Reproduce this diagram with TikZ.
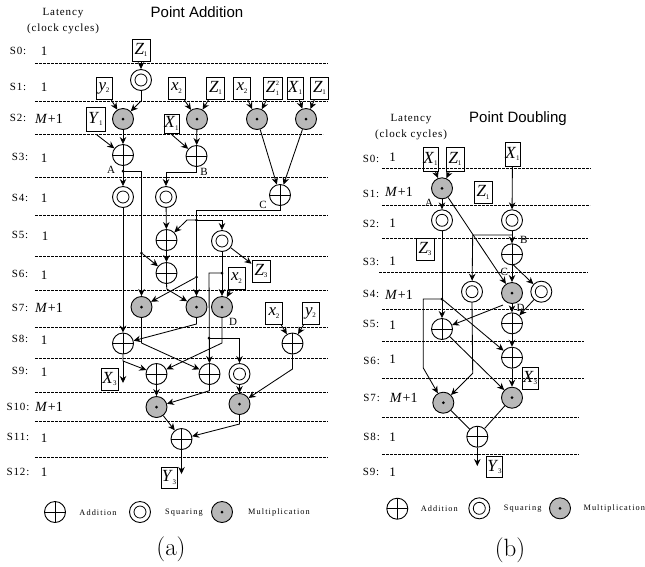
\documentclass[tikz,border=0pt]{standalone}
\usepackage{fontspec}
\usetikzlibrary{arrows.meta}
\newfontfamily\tms{Liberation Serif}
\newfontfamily\tmsp[LetterSpace=8]{Liberation Serif}
\newfontfamily\tmsw[LetterSpace=13]{Liberation Serif}
\newfontfamily\hlv{Liberation Sans}
\newcommand{\bv}[2]{{\tms\fontsize{17}{17}\selectfont\textit{#1}\kern-.4pt\raisebox{-2.5pt}{\fontsize{7}{7}\selectfont #2}}}
\newcommand{\bvv}[3]{{\tms\fontsize{17}{17}\selectfont\textit{#1}\kern.4pt\rlap{\raisebox{7pt}{\fontsize{6.5}{6.5}\selectfont #3}}\raisebox{-3pt}{\fontsize{6.5}{6.5}\selectfont #2}}}
\newcommand{\Mp}{{\tms\fontsize{14}{14}\selectfont\textit{M}\kern.5pt+1}}
\newcommand{\On}{{\tms\fontsize{13}{13}\selectfont 1}}
\tikzset{
  x=1pt,y=-1pt,
  opn/.style={circle,draw,minimum size=21,inner sep=0,line width=.9},
  addn/.style={opn,path picture={\draw[line width=.8] (path picture bounding box.north)--(path picture bounding box.south) (path picture bounding box.west)--(path picture bounding box.east);}},
  sqn/.style={opn,path picture={\draw[line width=.8] (path picture bounding box.center) circle (6);}},
  muln/.style={opn,fill=black!28,path picture={\fill[black] (path picture bounding box.center) circle (1.5);}},
  vbox/.style={draw,line width=.9,inner sep=0,minimum width=18,minimum height=22},
  dotn/.style={circle,fill,inner sep=0,minimum size=3},
  lab/.style={font=\tmsp\fontsize{11}{11}\selectfont,inner sep=0},
  nlab/.style={font=\tms\fontsize{11}{11}\selectfont,inner sep=0},
  leg/.style={font=\tmsw\fontsize{8.3}{8.3}\selectfont,inner sep=0},
  ttl/.style={font=\hlv\fontsize{15}{15}\selectfont,inner sep=0},
  captext/.style={font=\fontsize{25}{25}\selectfont,inner sep=0},
  lat/.style={inner sep=0},
  ln/.style={line width=.85},
  arr/.style={line width=.85,-{Stealth[length=7,width=6.5]}},
  dsh/.style={line width=.6,dash pattern=on 2.6 off 1.4},
}
\begin{document}
\begin{tikzpicture}
\useasboundingbox (0,0) rectangle (645,566);
% ---------- dashed stage lines
\foreach \y/\e in {63/328,101/328,134.5/323,177/328,215/328,256/328,290/328,327/328,358.5/328,392.7/328,421.5/328,457/328}
  \draw[dsh] (35,\y) -- (\e,\y);
\foreach \y/\s/\e in {168.5/382/591,205.5/382/590,238/382/588,272/379/588,309/382/584,341/382/584,378/382/584,417/382/579,454/382/579}
  \draw[dsh] (\s,\y) -- (\e,\y);
% ---------- stage labels (a)
\node[lab] (la) at (63,13) {Latency};
\node[lab] (lb) at (63,29) {(clock cycles)};
\node[ttl] (ta) at (197,12) {Point Addition};
\foreach \n/\x/\y/\t in {0/18/51/S0:,1/18/87/S1:,2/18/118/S2:,3/20/157/S3:,4/20/198/S4:,5/20/235/S5:,6/20/274/S6:,7/20/308/S7:,8/20/339/S8:,9/20/371/S9:,10/18/407/S10:,11/18/437/S11:,12/18/472/S12:}
  \node[lab] (sa\n) at (\x,\y) {\t};
\foreach \n/\x/\y in {0/44/51,1/44/87,3/44/158,4/44/198,5/45/236,6/44/275,8/44/340,9/44/372,11/44/438,12/44/472}
  \node[lat] (ca\n) at (\x,\y) {\On};
\foreach \n/\y in {2/119,7/308,10/407}
  \node[lat] (ca\n) at (49,\y) {\Mp};
% ---------- operations (a)
\node[sqn] (s1) at (141,80) {};
\node[muln] (m1) at (123,119) {};
\node[muln] (m2) at (197,119) {};
\node[muln] (m3) at (257,119) {};
\node[muln] (m4) at (306,119) {};
\node[addn] (a1) at (123,155) {};
\node[addn] (a2) at (196.5,156) {};
\node[sqn] (s2) at (123,197) {};
\node[sqn] (s3) at (166,197) {};
\node[addn] (a3) at (280,195) {};
\node[addn] (a4) at (166.5,240) {};
\node[sqn] (s4) at (222,241) {};
\node[addn] (a5) at (166.5,273) {};
\node[muln] (m5) at (141.5,307) {};
\node[muln] (m6) at (196.5,307) {};
\node[muln] (m7) at (222,307) {};
\node[addn] (a6) at (123,343.5) {};
\node[addn] (a7) at (292.5,343.5) {};
\node[addn] (a8) at (156.5,374) {};
\node[addn] (a9) at (209.5,374) {};
\node[sqn] (s5) at (239.5,374) {};
\node[muln] (m8) at (156.5,407) {};
\node[muln] (m9) at (239.5,404) {};
\node[addn] (a10) at (181.5,439) {};
% ---------- operands (a)
\node[vbox] (bz0) at (141,50) {\bv{Z}{1}};
\node[vbox,minimum width=16] (by1) at (104,88) {\bv{y}{2}};
\node[vbox,minimum width=17] (bx1) at (176.5,88) {\bv{x}{2}};
\node[vbox] (bz1) at (215.5,88) {\bv{Z}{1}};
\node[vbox,minimum width=17] (bx2) at (242,88) {\bv{x}{2}};
\node[vbox,minimum width=19] (bz2) at (272.5,88) {\bvv{Z}{1}{2}};
\node[vbox,minimum width=16] (bX1) at (295,88) {\bv{X}{1}};
\node[vbox] (bz3) at (319.5,88) {\bv{Z}{1}};
\node[vbox,minimum height=24,minimum width=19] (bY) at (95.5,119) {\bv{Y}{1}};
\node[vbox,minimum width=15,minimum height=19] (bX2) at (171.5,123.5) {\bv{X}{1}};
\node[vbox] (bZ3) at (261,271) {\bv{Z}{3}};
\node[vbox,minimum width=17] (bx3) at (236.5,278) {\bv{x}{2}};
\node[vbox,minimum width=17] (bx4) at (274,313) {\bv{x}{2}};
\node[vbox,minimum width=17] (by2) at (310.5,313) {\bv{y}{2}};
\node[vbox,minimum width=17] (bX3) at (109.5,379) {\bv{X}{3}};
\node[vbox,minimum width=16,minimum height=21] (bY3) at (169,477.5) {\bv{Y}{3}};
% ---------- junctions (a)
\node[dotn] (dA) at (123,171) {};
\node[dotn] (dC1) at (196.5,220) {};
\node[dotn] (dA2) at (141.5,253) {};
\node[dotn] (dS) at (222,273) {};
\node[dotn] (dC2) at (196.5,277) {};
\node[dotn] (dT) at (209,338) {};
% ---------- point labels (a)
\node[nlab] (nA) at (111,170) {A};
\node[nlab] (nB) at (204,172) {B};
\node[nlab] (nC) at (263,205) {C};
\node[nlab] (nD) at (233,321.5) {D};
% ---------- connectors (a)
\coordinate (e1) at (141,101);
\coordinate (e2) at (141.5,171);
\coordinate (e3) at (196.5,172);
\coordinate (e4) at (166,172);
\coordinate (e5) at (280,210);
\coordinate (e6) at (196.5,210);
\coordinate (e7) at (187,220);
\coordinate (e8) at (222,220);
\coordinate (e9) at (209,273);
\coordinate (e10) at (239.5,338);
\coordinate (e11) at (166.8,289);
\coordinate (e12) at (141.5,343);
\coordinate (e13) at (196.5,324);
\coordinate (e14) at (222,343);
\coordinate (e15) at (123,361);
\coordinate (e16) at (123,383);
\coordinate (e17) at (292.5,369);
\coordinate (e18) at (209.5,390.7);
\coordinate (e19) at (239.5,424);
\coordinate (e20) at (181.5,474);
\coordinate (b1) at (97,135);
\coordinate (b2) at (171,134);
\draw[arr] (bz0) -- (s1);
\draw[ln] (s1) -- (e1);
\draw[arr] (e1) -- (m1);
\draw[arr] (by1) -- (m1);
\draw[arr] (bx1) -- (m2);
\draw[arr] (bz1) -- (m2);
\draw[arr] (bx2) -- (m3);
\draw[arr] (bz2) -- (m3);
\draw[arr] (bX1) -- (m4);
\draw[arr] (bz3) -- (m4);
\draw[arr] (m1) -- (a1);
\draw[arr] (m2) -- (a2);
\draw[arr] (b1) -- (a1);
\draw[arr] (b2) -- (a2);
\draw[arr] (m3) -- (a3);
\draw[arr] (m4) -- (a3);
\draw[arr] (a1) -- (s2);
\draw[arr] (a2.south) -- (e3) -- (e4) -- (s3);
\draw[arr] (dA.center) -- (e2) -- (m5);
\draw[ln] (a3.south) -- (e5) -- (e6);
\draw[arr] (e6) -- (m6);
\draw[arr] (dC1.center) -- (e7) -- (a4);
\draw[arr] (dC1.center) -- (e8) -- (s4);
\draw[arr] (s3) -- (a4);
\draw[arr] (a4) -- (a5);
\draw[arr] (dA2) -- (a5);
\draw[arr] (s4) -- (bZ3);
\draw[arr] (s4) -- (m7);
\draw[arr] (dS.center) -- (e9) -- (a9);
\draw[arr] (dT.center) -- (e10) -- (s5);
\draw[arr] (bx3) -- (m7);
\draw[arr] (a5.south) -- (e11) -- (m6);
\draw[arr] (dC2) -- (m5);
\draw[arr] (s2) -- (a6);
\draw[arr] (m6.south) -- (e13) -- (a6);
\draw[arr] (m5.south) -- (e12) -- (a9);
\draw[arr] (m7.south) -- (e14) -- (a8);
\draw[arr] (a6.south) -- (e15) -- (a8);
\draw[arr] (e15) -- (e16);
\draw[arr] (bx4) -- (a7);
\draw[arr] (by2) -- (a7);
\draw[arr] (a7.south) -- (e17) -- (m9);
\draw[arr] (a8) -- (m8);
\draw[arr] (a9.south) -- (e18) -- (m8);
\draw[arr] (s5) -- (m9);
\draw[arr] (m8) -- (a10);
\draw[arr] (m9.south) -- (e19) -- (a10);
\draw[arr] (a10.south) -- (e20);
% ---------- legend (a)
\node[addn] (la1) at (55,512) {};
\node[leg] (la2) at (98,512.7) {Addition};
\node[sqn] (la3) at (140,512) {};
\node[leg] (la4) at (184,512.7) {Squaring};
\node[muln] (la5) at (222,512) {};
\node[leg] (la6) at (279,512.7) {Multiplication};
\node[captext] (capa) at (171,549) {(a)};
% ---------- stage labels (b)
\node[lab] (lc) at (411,119) {Latency};
\node[lab] (ld) at (411,135) {(clock cycles)};
\node[ttl] (tb) at (518,119) {Point Doubling};
\foreach \n/\x/\y/\t in {0/371/159/S0:,1/371/194/S1:,2/371/224/S2:,3/371/262/S3:,4/371/294/S4:,5/371/324/S5:,6/371.7/361/S6:,7/371.7/398/S7:,8/371.7/437/S8:,9/371/472/S9:}
  \node[lab] (sb\n) at (\x,\y) {\t};
\foreach \n/\y in {0/157,2/223,3/261,5/325,6/359,8/437,9/472}
  \node[lat] (cb\n) at (392.7,\y) {\On};
\foreach \n/\x/\y in {1/399/192,4/399/295,7/403.7/398}
  \node[lat] (cb\n) at (\x,\y) {\Mp};
% ---------- operations (b)
\node[muln] (q1) at (442,188.3) {};
\node[sqn] (r1) at (442,220.3) {};
\node[sqn] (r2) at (512,220.3) {};
\node[addn] (p1) at (512,254.3) {};
\node[sqn] (r3) at (472,291.7) {};
\node[muln] (q2) at (512,293) {};
\node[sqn] (r4) at (541.3,291.7) {};
\node[addn] (p2) at (442,329) {};
\node[addn] (p3) at (512,323.3) {};
\node[addn] (p4) at (512,357.7) {};
\node[muln] (q3) at (443.3,402.7) {};
\node[muln] (q4) at (512,397.7) {};
\node[addn] (p5) at (477.3,436.7) {};
% ---------- operands (b)
\node[vbox,minimum width=15,minimum height=24] (cX1) at (430.5,159) {\bv{X}{1}};
\node[vbox,minimum height=24] (cZ1) at (455,159) {\bv{Z}{1}};
\node[vbox,minimum width=15,minimum height=24] (cX2) at (512.5,154) {\bv{X}{1}};
\node[vbox] (cZ2) at (483,192.5) {\bv{Z}{1}};
\node[vbox] (cZ3) at (425,249) {\bv{Z}{3}};
\node[vbox,minimum width=16] (cX3) at (530,378) {\bv{X}{3}};
\node[vbox,minimum width=16,minimum height=21] (cY3) at (494.5,467) {\bv{Y}{3}};
% ---------- junctions (b)
\node[dotn] (dB) at (442,299) {};
% ---------- point labels (b)
\node[nlab] (nbA) at (429,202.7) {A};
\node[nlab] (nbB) at (523.7,240) {B};
\node[nlab] (nbC) at (504.3,272) {C};
\node[nlab] (nbD) at (520.7,308) {D};
% ---------- connectors (b)
\coordinate (f1) at (472.7,235);
\coordinate (f2) at (512,235);
\coordinate (f3) at (423.3,299);
\coordinate (f4) at (423.3,368);
\coordinate (f5) at (472.7,373.3);
\coordinate (f6) at (477.3,466);
\coordinate (f7) at (512.7,264.3);
\coordinate (f8) at (503,305);
\draw[arr] (cX1) -- (q1);
\draw[arr] (cZ1) -- (q1);
\draw[arr] (q1) -- (r1);
\draw[arr] (q1) -- (q2);
\draw[arr] (cX2) -- (r2);
\draw[arr] (r2) -- (p1);
\draw[arr] (f2) -- (f1) -- (r3);
\draw[arr] (p1) -- (q2);
\draw[arr] (f7) -- (r4);
\draw[arr] (r1) -- (p2);
\draw[arr] (dB.center) -- (f3) -- (f4) -- (q3);
\draw[arr] (dB) -- (p4);
\draw[arr] (q2) -- (p3);
\draw[arr] (f8) -- (p2);
\draw[arr] (r4) -- (p3);
\draw[arr] (p3) -- (p4);
\draw[arr] (p4) -- (q4);
\draw[arr] (p2) -- (q4);
\draw[arr] (r3.south) -- (f5) -- (q3);
\draw[ln] (q3) -- (p5);
\draw[ln] (q4) -- (p5);
\draw[arr] (p5.south) -- (f6);
% ---------- legend (b)
\node[addn] (lb1) at (397.3,508.7) {};
\node[leg] (lb2) at (439.3,508.7) {Addition};
\node[sqn] (lb3) at (479.3,508.3) {};
\node[leg] (lb4) at (522.7,508.7) {Squaring};
\node[muln] (lb5) at (560,508.3) {};
\node[leg] (lb6) at (614.3,508.7) {Multiplication};
\node[captext] (capb) at (510,550) {(b)};
\end{tikzpicture}
\end{document}
